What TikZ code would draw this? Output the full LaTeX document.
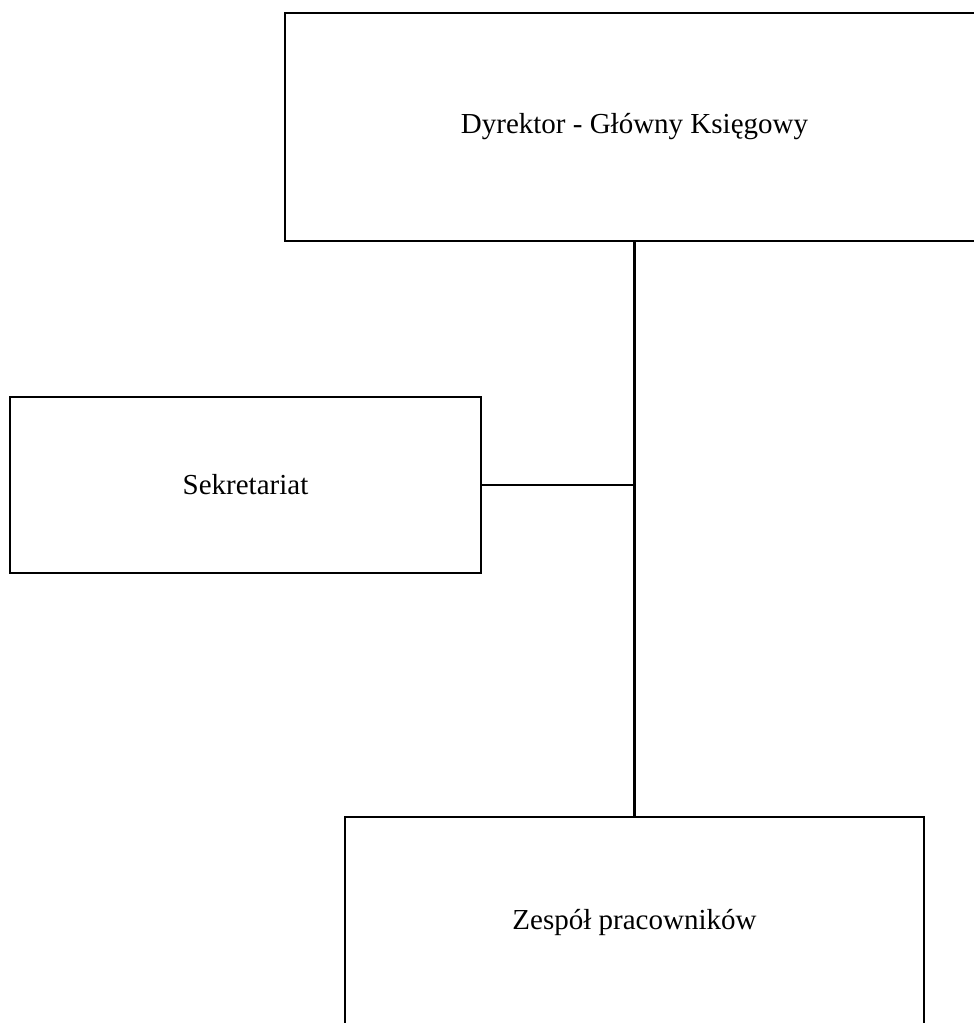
\documentclass[tikz,border=0pt]{standalone}
\usepackage{fontspec}
\setmainfont{Liberation Serif}
\usepackage{tikz}

\begin{document}
\begin{tikzpicture}[x=1pt,y=-1pt,
  unit/.style={draw=black,line width=2.5pt,rectangle,inner sep=0pt,align=center,
    font=\fontsize{29}{34}\selectfont},
  link/.style={draw=black,line width=2.5pt}]
\useasboundingbox (0,0) rectangle (974,1023);
\node [unit,minimum width=699pt,minimum height=228pt] (dyr) at (634.5,127) {Dyrektor - Główny Księgowy};
\node [unit,minimum width=471pt,minimum height=176pt] (sekr) at (245.5,485) {Sekretariat};
\node [unit,minimum width=579pt,minimum height=210pt] (zesp) at (634.5,922) {Zespół pracowników};
\coordinate (joint) at (dyr.south |- sekr.east);
\draw [link] (dyr.south) -- (joint) -- (zesp.north);
\draw [link] (sekr.east) -- (joint);
\end{tikzpicture}
\end{document}
